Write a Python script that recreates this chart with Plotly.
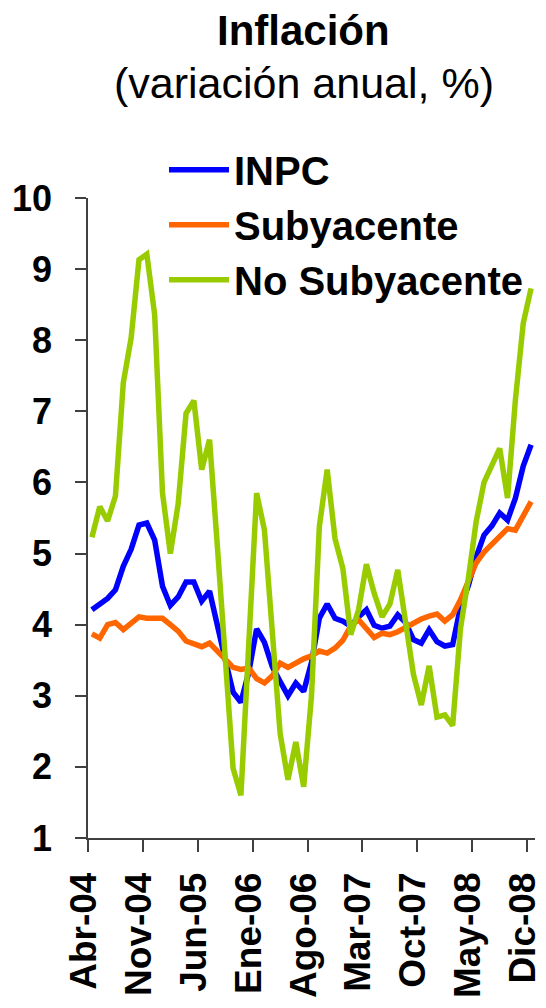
import plotly.graph_objects as go

months = [
    "Abr-04", "May-04", "Jun-04", "Jul-04", "Ago-04", "Sep-04", "Oct-04", "Nov-04", "Dic-04",
    "Ene-05", "Feb-05", "Mar-05", "Abr-05", "May-05", "Jun-05", "Jul-05", "Ago-05", "Sep-05",
    "Oct-05", "Nov-05", "Dic-05",
    "Ene-06", "Feb-06", "Mar-06", "Abr-06", "May-06", "Jun-06", "Jul-06", "Ago-06", "Sep-06",
    "Oct-06", "Nov-06", "Dic-06",
    "Ene-07", "Feb-07", "Mar-07", "Abr-07", "May-07", "Jun-07", "Jul-07", "Ago-07", "Sep-07",
    "Oct-07", "Nov-07", "Dic-07",
    "Ene-08", "Feb-08", "Mar-08", "Abr-08", "May-08", "Jun-08", "Jul-08", "Ago-08", "Sep-08",
    "Oct-08", "Nov-08", "Dic-08",
]

inpc = [
    4.21, 4.29, 4.37, 4.49, 4.82, 5.06, 5.40, 5.43, 5.19,
    4.54, 4.27, 4.39, 4.60, 4.60, 4.33, 4.47, 3.95, 3.51, 3.05, 2.91, 3.33,
    3.94, 3.75, 3.41, 3.20, 3.00, 3.18, 3.06, 3.47, 4.09, 4.29, 4.09, 4.05,
    3.98, 4.11, 4.21, 3.99, 3.95, 3.98, 4.14, 4.03, 3.79, 3.74, 3.93, 3.76,
    3.70, 3.72, 4.25, 4.55, 4.95, 5.26, 5.39, 5.57, 5.47, 5.78, 6.23, 6.53,
]

subyacente = [
    3.87, 3.81, 4.00, 4.03, 3.93, 4.03, 4.11, 4.09, 4.09,
    4.09, 4.00, 3.91, 3.77, 3.73, 3.69, 3.74, 3.62, 3.50, 3.40, 3.37, 3.39,
    3.24, 3.18, 3.28, 3.46, 3.40, 3.47, 3.52, 3.56, 3.63, 3.60, 3.67, 3.78,
    3.98, 4.07, 3.95, 3.82, 3.88, 3.86, 3.90, 3.96, 4.03, 4.08, 4.12, 4.15,
    4.05, 4.14, 4.35, 4.60, 4.87, 5.02, 5.13, 5.25, 5.35, 5.33, 5.52, 5.73,
]

no_subyacente = [
    5.23, 5.66, 5.46, 5.81, 7.40, 8.03, 9.13, 9.21, 8.36,
    5.85, 5.00, 5.70, 6.97, 7.15, 6.18, 6.60, 5.10, 3.50, 1.98, 1.60, 3.60,
    5.85, 5.33, 3.90, 2.47, 1.82, 2.35, 1.72, 3.00, 5.38, 6.18, 5.21, 4.79,
    3.86, 4.21, 4.85, 4.44, 4.11, 4.29, 4.77, 4.00, 3.30, 2.87, 3.42, 2.70,
    2.73, 2.58, 3.95, 4.65, 5.45, 6.00, 6.25, 6.48, 5.78, 7.16, 8.24, 8.73,
]

series_names = ["INPC", "Subyacente", "No Subyacente"]
series_colors = ["#0000FF", "#FF6600", "#99CC00"]

FONT = "Liberation Sans, Arial, sans-serif"

fig = go.Figure()
for name, vals, col in zip(series_names, [inpc, subyacente, no_subyacente], series_colors):
    fig.add_trace(go.Scatter(
        x=months, y=vals, name=name, mode="lines",
        line=dict(color=col, width=5.5),
        legendgroup=name,
    ))

# page body has an 8px margin, so the figure is 538x1000 placed at (8, 8)
fig.update_layout(
    width=538, height=1000,
    margin=dict(l=80, r=11, t=190, b=170, autoexpand=False),
    paper_bgcolor="white", plot_bgcolor="white",
    showlegend=True,
    legend=dict(
        x=0.170, y=1.095, xanchor="left", yanchor="top",
        font=dict(family=FONT, size=40, color="black", weight="bold"),
        bgcolor="rgba(0,0,0,0)",
        itemwidth=60,
        tracegroupgap=0,
    ),
    annotations=[
        dict(text="<b>Inflación</b>", x=0.483, y=1.262, xref="paper", yref="paper",
             xanchor="center", yanchor="middle", showarrow=False,
             font=dict(family=FONT, size=42, color="black")),
        dict(text="(variación anual, %)", x=0.483, y=1.18, xref="paper", yref="paper",
             xanchor="center", yanchor="middle", showarrow=False,
             font=dict(family=FONT, size=43, color="black")),
    ],
)

fig.update_xaxes(
    type="category",
    range=[-0.5, len(months) - 0.5],
    tickmode="linear", tick0=0, dtick=7,
    tickson="boundaries",
    ticks="outside", ticklen=12, tickwidth=1.5, tickcolor="#404040",
    tickangle=-90,
    tickfont=dict(family=FONT, size=37, color="black", weight="bold"),
    showline=True, linecolor="#404040", linewidth=1.5,
    showgrid=False, zeroline=False,
    ticklabelstandoff=18,
    ticklabelshift=-8,
    automargin=False,
)

fig.update_yaxes(
    range=[1, 10],
    tickmode="linear", tick0=1, dtick=1,
    ticks="outside", ticklen=11, tickwidth=1.5, tickcolor="#404040",
    tickfont=dict(family=FONT, size=36, color="black", weight="bold"),
    showline=True, linecolor="#404040", linewidth=1.5,
    showgrid=False, zeroline=False,
    ticklabelstandoff=16,
    automargin=False,
)

fig.write_html("out.html")
